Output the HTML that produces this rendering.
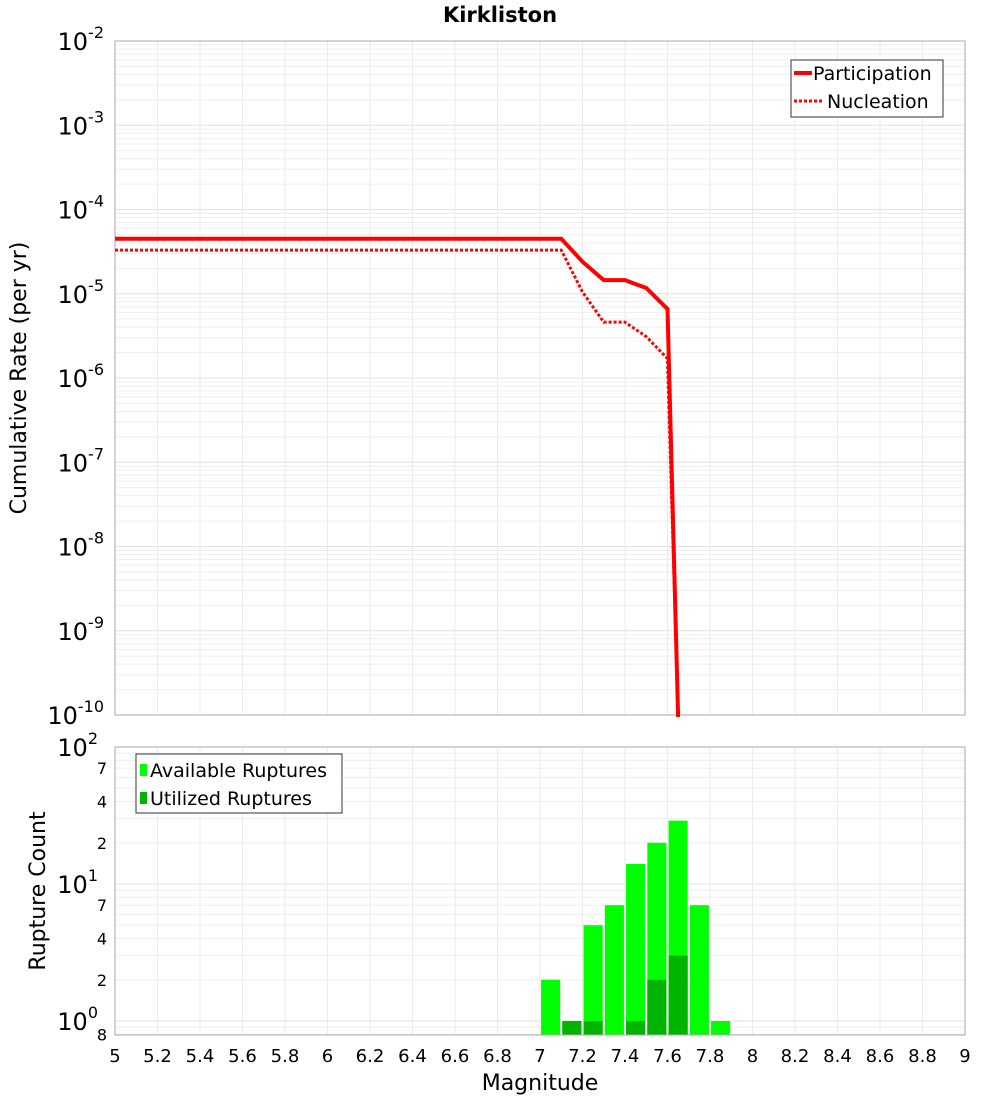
<!DOCTYPE html>
<html><head><meta charset="utf-8"><style>
body{margin:0;background:#fff;}
svg{display:block;font-family:"DejaVu Sans","Liberation Sans",sans-serif;}
</style></head><body>
<svg id="c" width="1000" height="1100">
<text x="500" y="22" text-anchor="middle" font-size="21" font-weight="bold">Kirkliston</text>
<g id="topPlot"></g>
<g id="botPlot"></g>
<text transform="translate(26,378) rotate(-90)" text-anchor="middle" font-size="22">Cumulative Rate (per yr)</text>
<text transform="translate(45,891) rotate(-90)" text-anchor="middle" font-size="22">Rupture Count</text>
<text x="540" y="1090" text-anchor="middle" font-size="22">Magnitude</text>
</svg>
<script>
const partMag=[5,7.1,7.2,7.3,7.4,7.5,7.6,7.65];
const partRate=[4.5e-5,4.5e-5,2.4e-5,1.45e-5,1.45e-5,1.17e-5,6.6e-6,1e-11];
const nuclMag=[5,7.1,7.2,7.3,7.4,7.5,7.6,7.65];
const nuclRate=[3.3e-5,3.3e-5,1.05e-5,4.6e-6,4.6e-6,3.1e-6,1.7e-6,1e-11];
const binMag=[7.05,7.15,7.25,7.35,7.45,7.55,7.65,7.75,7.85];
const availCount=[2,1,5,7,14,20,29,7,1];
const usedCount=[0,1,1,0,1,2,3,0,0];
const xTicks=[5,5.2,5.4,5.6,5.8,6,6.2,6.4,6.6,6.8,7,7.2,7.4,7.6,7.8,8,8.2,8.4,8.6,8.8,9];

const NS="http://www.w3.org/2000/svg";
function mk(p,t,a){const e=document.createElementNS(NS,t);for(const k in a)e.setAttribute(k,a[k]);p.appendChild(e);return e;}
const L=115,R=965;
const X=m=>L+(m-5)/4*(R-L);
const T0=41,T1=715;
const YT=v=>T0+(-2-Math.log10(v))*(T1-T0)/8;
const B0=747,B1=1035,BD=137;
const YB=v=>B0+(2-Math.log10(v))*BD;
const topG=document.getElementById('topPlot'),botG=document.getElementById('botPlot');

for(let d=-10;d<-2;d++)for(let k=1;k<10;k++){const y=YT(k*Math.pow(10,d));
 const g=mk(topG,'line',{x1:L,x2:R,y1:y,y2:y,stroke:k==1?'#e0e0e0':'#efefef','stroke-width':1});
 
 }
xTicks.forEach(m=>{const l=mk(topG,'line',{x1:X(m),x2:X(m),y1:T0,y2:T1,stroke:'#ebebeb'});
 
 });
mk(topG,'rect',{x:L,y:T0,width:R-L,height:T1-T0,fill:'none',stroke:'#aaa'});
for(let d=-10;d<=-2;d++){const t=mk(topG,'text',{x:104,y:YT(Math.pow(10,d))+9,'text-anchor':'end','font-size':24});
 
 
 t.innerHTML='10<tspan dy="-12" font-size="16">'+d+'</tspan>';}
function line(ms,vs,dash,name){const pts=ms.map((m,i)=>X(m)+','+Math.min(YT(vs[i]),T1+2)).join(' ');
 const p=mk(topG,'polyline',{points:pts,fill:'none',stroke:'#f00','stroke-width':dash?3:4,'stroke-dasharray':dash?'3,2':'none'});
 
 }
line(nuclMag,nuclRate,true,'nucleation-line');
line(partMag,partRate,false,'participation-line');
const lg=mk(topG,'g',{});


mk(lg,'rect',{x:791,y:60,width:152,height:57,fill:'#fff',stroke:'#333'});
mk(lg,'line',{x1:794,x2:812,y1:73,y2:73,stroke:'#f00','stroke-width':4});
mk(lg,'line',{x1:794,x2:822,y1:101,y2:101,stroke:'#f00','stroke-width':3,'stroke-dasharray':'3,2'});
let t=mk(lg,'text',{x:813,y:80,'font-size':19});t.textContent='Participation';
t=mk(lg,'text',{x:827,y:108,'font-size':19});t.textContent='Nucleation';

for(let d=-1;d<2;d++)for(let k=1;k<10;k++){const v=k*Math.pow(10,d);if(v<0.79)continue;const y=YB(v);
 const g=mk(botG,'line',{x1:L,x2:R,y1:y,y2:y,stroke:k==1?'#e0e0e0':'#efefef'});
 
 }
xTicks.forEach(m=>{const l=mk(botG,'line',{x1:X(m),x2:X(m),y1:B0,y2:B1,stroke:'#ebebeb'});
 
 });
const bw=0.09*(R-L)/4;
binMag.forEach((m,i)=>{if(availCount[i]>0){const r=mk(botG,'rect',{x:X(m)-bw/2,y:YB(availCount[i]),width:bw,height:B1-YB(availCount[i]),fill:'#00ff00'});
 
 }
 if(usedCount[i]>0){const r=mk(botG,'rect',{x:X(m)-bw/2,y:YB(usedCount[i]),width:bw,height:B1-YB(usedCount[i]),fill:'#00b400'});
 
 }});
mk(botG,'rect',{x:L,y:B0,width:R-L,height:B1-B0,fill:'none',stroke:'#aaa'});
[0,1,2].forEach(d=>{const t=mk(botG,'text',{x:98,y:YB(Math.pow(10,d))+9,'text-anchor':'end','font-size':24});
 
 
 t.innerHTML='10<tspan dy="-12" font-size="16">'+d+'</tspan>';});
[[70,7],[40,4],[20,2],[7,7],[4,4],[2,2],[0.8,8]].forEach(a=>{const t=mk(botG,'text',{x:107,y:YB(a[0])+6,'text-anchor':'end','font-size':16});
 
 
 t.textContent=a[1];});
xTicks.forEach(m=>{const t=mk(botG,'text',{x:X(m),y:1062,'text-anchor':'middle','font-size':18});
 
 
 t.textContent=m;});
const lb=mk(botG,'g',{});


mk(lb,'rect',{x:136,y:754,width:206,height:59,fill:'#fff',stroke:'#333'});
mk(lb,'rect',{x:140,y:764,width:7,height:12,fill:'#00ff00'});
mk(lb,'rect',{x:140,y:792,width:7,height:12,fill:'#00b400'});
t=mk(lb,'text',{x:150,y:777,'font-size':19});t.textContent='Available Ruptures';
t=mk(lb,'text',{x:150,y:805,'font-size':19});t.textContent='Utilized Ruptures';
</script>
</body></html>
